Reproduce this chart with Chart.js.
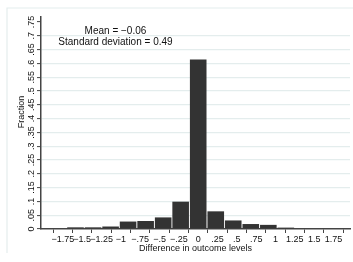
<!DOCTYPE html>
<html>
<head>
<meta charset="utf-8">
<script src="https://cdn.jsdelivr.net/npm/chart.js@4"></script>
<style>
  html, body { margin: 0; padding: 0; background: #fff; }
  #wrap { width: 353px; height: 262px; }
</style>
</head>
<body>
<div id="wrap"><canvas id="histChart" width="353" height="262"></canvas></div>
<script>
// bin midpoints (15 bins from -1.7 to 1.7) and fraction per bin
const binCenters = [-1.587, -1.360, -1.133, -0.907, -0.680, -0.453, -0.227, 0, 0.227, 0.453, 0.680, 0.907, 1.133, 1.360, 1.587];
const fractions = [0.006, 0.006, 0.009, 0.027, 0.029, 0.042, 0.099, 0.614, 0.064, 0.031, 0.018, 0.015, 0.005, 0, 0];

const xTicks = [-1.75, -1.5, -1.25, -1, -0.75, -0.5, -0.25, 0, 0.25, 0.5, 0.75, 1, 1.25, 1.5, 1.75];
const xTickLabels = ['\u22121.75', '\u22121.5', '\u22121.25', '\u22121', '\u2212.75', '\u2212.5', '\u2212.25', '0', '.25', '.5', '.75', '1', '1.25', '1.5', '1.75'];
const yTicks = [0, 0.05, 0.1, 0.15, 0.2, 0.25, 0.3, 0.35, 0.4, 0.45, 0.5, 0.55, 0.6, 0.65, 0.7, 0.75];
const yTickLabels = ['0', '.05', '.1', '.15', '.2', '.25', '.3', '.35', '.4', '.45', '.5', '.55', '.6', '.65', '.7', '.75'];

const statLines = ['Mean = \u22120.06', 'Standard deviation = 0.49'];

const FONT = "'Liberation Sans', Arial, sans-serif";
const gridColor = '#e4eded';
const axisColor = '#444444';

const stataDecor = {
  id: 'stataDecor',
  beforeDraw(chart) {
    const c = chart.ctx;
    c.save();
    // light outer frame of the graph region
    c.strokeStyle = gridColor;
    c.lineWidth = 1.2;
    c.beginPath();
    c.moveTo(7, 253);
    c.lineTo(7, 8);
    c.lineTo(chart.width, 8);
    c.stroke();
    c.restore();
  },
  afterDraw(chart) {
    const c = chart.ctx;
    const area = chart.chartArea;
    const ys = chart.scales.y;
    const xs = chart.scales.x;
    c.save();
    c.fillStyle = '#111';
    c.textAlign = 'center';
    c.textBaseline = 'middle';

    // rotated y tick labels
    c.font = '9px ' + FONT;
    yTicks.forEach((v, i) => {
      c.save();
      c.translate(area.left - 9.5, ys.getPixelForValue(v));
      c.rotate(-Math.PI / 2);
      c.fillText(yTickLabels[i], 0, 0);
      c.restore();
    });

    // y axis title
    c.save();
    c.translate(area.left - 19.5, area.top + (area.bottom - area.top) * 0.448);
    c.rotate(-Math.PI / 2);
    c.fillText('Fraction', 0, 0);
    c.restore();

    // summary text
    c.font = '10px ' + FONT;
    const tx = xs.getPixelForValue(-1.07);
    c.fillText(statLines[0], tx, ys.getPixelForValue(0.715));
    c.fillText(statLines[1], tx, ys.getPixelForValue(0.675));
    c.restore();
  }
};

const ctx = document.getElementById('histChart').getContext('2d');
const chart = new Chart(ctx, {
  type: 'bar',
  data: {
    datasets: [{
      label: 'Fraction',
      data: binCenters.map((c, i) => ({ x: c, y: fractions[i] })),
      backgroundColor: '#333333',
      borderWidth: 0,
      barPercentage: 0.95,
      categoryPercentage: 1
    }]
  },
  options: {
    responsive: false,
    animation: false,
    layout: { padding: { left: 0, right: 3, top: 17, bottom: 0 } },
    plugins: {
      legend: { display: false },
      tooltip: { enabled: false }
    },
    scales: {
      x: {
        type: 'linear',
        min: -1.9,
        max: 1.83,
        afterBuildTicks: scale => { scale.ticks = xTicks.map(v => ({ value: v })); },
        afterFit: scale => { scale.height = 33; },
        grid: { display: true, drawOnChartArea: false, drawTicks: true, tickLength: 4, tickColor: axisColor, tickWidth: 1 },
        border: { display: true, color: axisColor, width: 1.5 },
        ticks: {
          autoSkip: false,
          maxRotation: 0,
          minRotation: 0,
          padding: 1,
          color: '#111',
          font: { family: FONT, size: 9 },
          callback: (v) => {
            const i = xTicks.indexOf(v);
            return i >= 0 ? xTickLabels[i] : '';
          }
        },
        title: {
          display: true,
          text: 'Difference in outcome levels',
          color: '#111',
          font: { family: FONT, size: 9 },
          padding: { top: 0, bottom: 8.5 }
        }
      },
      y: {
        type: 'linear',
        min: 0,
        max: 0.768,
        afterBuildTicks: scale => { scale.ticks = yTicks.map(v => ({ value: v })); },
        afterFit: scale => { scale.width = 41; },
        grid: {
          color: c => (c.tick && (c.tick.value === 0 || c.tick.value === 0.75)) ? 'rgba(0,0,0,0)' : gridColor,
          lineWidth: 1.2,
          drawTicks: true,
          tickLength: 4,
          tickColor: axisColor,
          tickWidth: 1
        },
        border: { display: true, color: axisColor, width: 1.5 },
        ticks: { display: false }
      }
    }
  },
  plugins: [stataDecor]
});
</script>
</body>
</html>
